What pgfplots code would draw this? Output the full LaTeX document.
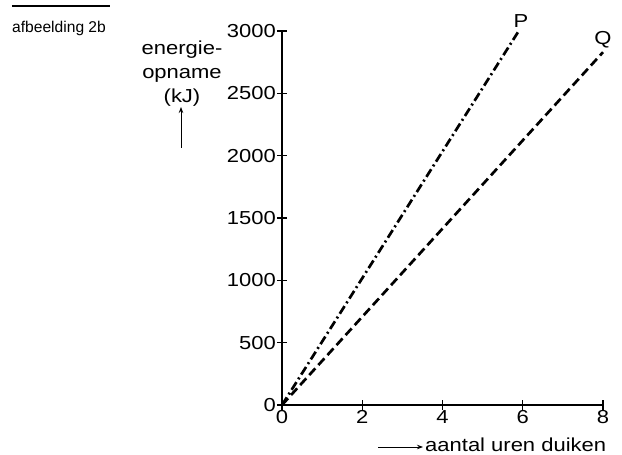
\documentclass[border=0pt]{standalone}
\usepackage{pgfplots}
\pgfplotsset{compat=1.18}
\usetikzlibrary{arrows.meta}
\usepackage{fontspec}
\setmainfont{Liberation Sans}
\newfontfamily\chartfont{Liberation Sans}[FakeStretch=1.17]
\newcommand\cf{\chartfont\fontsize{18.8bp}{24bp}\selectfont}
\begin{document}
\begin{tikzpicture}[x=1bp,y=1bp]
  \useasboundingbox (-282,-50) rectangle (340,405);
  \begin{axis}[
      at={(0,0)}, anchor=south west,
      scale only axis,
      width=321bp, height=374bp,
      xmin=0, xmax=8, ymin=0, ymax=3000,
      axis lines=left,
      axis line style={-, line width=1.4bp},
      xtick={0,2,4,6,8},
      ytick={0,500,...,3000},
      tick align=center,
      major tick length=10bp,
      tick style={line width=1.4bp, black},
      /pgf/number format/assume math mode=true,
      /pgf/number format/1000 sep={},
      tick label style={font=\cf},
      yticklabel style={inner sep=0pt, xshift=-1bp},
      xticklabel style={inner sep=0pt, yshift=0bp},
      clip=false,
  ]
  % P: dash-dot
  \addplot[black, line width=2.7bp, dash pattern=on 9bp off 3.5bp on 2bp off 3.5bp] coordinates {
      (0,0) (5.88,2990)
  };
  % Q: dashed
  \addplot[black, line width=2.7bp, dash pattern=on 9bp off 4.5bp] coordinates {
      (0,0) (8,2830)
  };
  \end{axis}
  \node[font=\cf] at (239,384) {P};
  \node[font=\cf] at (321,365) {Q};
  % y label
  \node[font=\cf, align=center, inner sep=0pt] at (-100,331) {energie-\\opname\\(kJ)};
  \draw[-{Stealth[length=6bp,width=4.5bp]}, line width=0.9bp] (-101,257) -- (-101,298);
  % x label
  \node[font=\cf, anchor=base west, inner sep=0pt] at (143,-47) {aantal uren duiken};
  \draw[-{Stealth[length=6bp,width=4.5bp]}, line width=0.9bp] (96,-42) -- (141,-42);
  % caption
  \draw[line width=2bp] (-270,398.5) -- (-172,398.5);
  \node[anchor=base west, inner sep=0pt, font=\fontsize{15.6bp}{17bp}\selectfont] at (-270,372) {afbeelding 2b};
\end{tikzpicture}
\end{document}
